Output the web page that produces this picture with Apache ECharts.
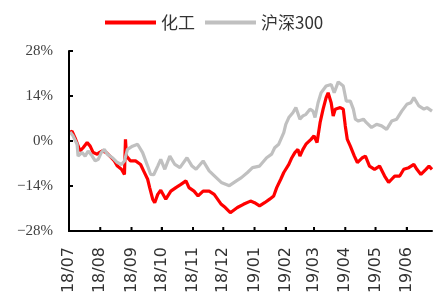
<!DOCTYPE html>
<html>
<head>
<meta charset="utf-8">
<script src="https://cdn.jsdelivr.net/npm/echarts@6/dist/echarts.min.js"></script>
<style>
  html, body { margin: 0; padding: 0; background: #fff; }
  #chart { width: 438px; height: 297px; }
</style>
</head>
<body>
<div id="chart"></div>
<script>
// 化工 指数涨跌幅（%）
var chemDates = [
  '2018-07-02', '2018-07-04', '2018-07-07', '2018-07-12', '2018-07-15', '2018-07-19', '2018-07-22', '2018-07-25',
  '2018-07-29', '2018-07-31', '2018-08-03', '2018-08-07', '2018-08-12', '2018-08-15', '2018-08-18', '2018-08-22',
  '2018-08-25', '2018-08-26', '2018-08-27', '2018-08-31', '2018-09-05', '2018-09-10', '2018-09-13', '2018-09-17',
  '2018-09-19', '2018-09-22', '2018-09-24', '2018-09-27', '2018-09-30', '2018-10-05', '2018-10-10', '2018-10-15',
  '2018-10-20', '2018-10-25', '2018-10-28', '2018-11-02', '2018-11-06', '2018-11-11', '2018-11-17', '2018-11-22',
  '2018-11-29', '2018-12-03', '2018-12-08', '2018-12-15', '2018-12-21', '2018-12-28', '2019-01-01', '2019-01-06',
  '2019-01-11', '2019-01-16', '2019-01-20', '2019-01-23', '2019-01-27', '2019-01-30', '2019-02-04', '2019-02-07',
  '2019-02-10', '2019-02-13', '2019-02-15', '2019-02-18', '2019-02-21', '2019-02-26', '2019-03-01', '2019-03-04',
  '2019-03-07', '2019-03-10', '2019-03-13', '2019-03-15', '2019-03-18', '2019-03-20', '2019-03-22', '2019-03-27',
  '2019-03-30', '2019-04-01', '2019-04-03', '2019-04-06', '2019-04-10', '2019-04-13', '2019-04-18', '2019-04-21',
  '2019-04-25', '2019-04-30', '2019-05-05', '2019-05-10', '2019-05-14', '2019-05-17', '2019-05-20', '2019-05-25',
  '2019-05-29', '2019-06-03', '2019-06-08', '2019-06-11', '2019-06-15', '2019-06-20', '2019-06-23', '2019-06-26'
];
var chemValues = [
  2.6, 3.1, 1.0, -3.1, -2.1, -0.5, -1.6, -3.6,
  -4.1, -3.6, -3.1, -3.6, -5.2, -6.2, -7.8, -8.8,
  -10.4, 0.5, -4.7, -6.2, -6.2, -7.3, -9.3, -11.9,
  -14.5, -18.1, -19.2, -16.6, -15.3, -18.1, -15.6, -14.5,
  -13.5, -12.4, -14.5, -15.6, -17.1, -15.6, -15.6, -16.6,
  -19.7, -20.7, -22.3, -20.7, -19.7, -18.7, -19.2, -20.2,
  -19.2, -18.1, -17.1, -14.5, -11.9, -9.8, -7.3, -5.2,
  -3.6, -2.6, -4.7, -2.6, -1.0, 0.5, 1.6, -0.5,
  5.7, 9.9, 13.5, 15.0, 11.9, 7.8, 9.9, 10.4,
  9.9, 4.7, 0.5, -1.6, -4.7, -6.7, -5.2, -4.7,
  -7.8, -8.8, -7.8, -10.9, -12.9, -11.9, -10.9, -10.9,
  -8.8, -8.3, -7.3, -8.8, -10.4, -8.8, -7.8, -8.8
];

// 沪深300 涨跌幅（%）
var hsDates = [
  '2018-07-02', '2018-07-05', '2018-07-09', '2018-07-10', '2018-07-14', '2018-07-17', '2018-07-20', '2018-07-24',
  '2018-07-27', '2018-07-30', '2018-08-02', '2018-08-05', '2018-08-08', '2018-08-13', '2018-08-18', '2018-08-22',
  '2018-08-25', '2018-08-28', '2018-09-02', '2018-09-07', '2018-09-12', '2018-09-17', '2018-09-20', '2018-09-23',
  '2018-09-27', '2018-09-30', '2018-10-04', '2018-10-09', '2018-10-14', '2018-10-19', '2018-10-26', '2018-10-31',
  '2018-11-04', '2018-11-11', '2018-11-17', '2018-11-24', '2018-11-29', '2018-12-07', '2018-12-14', '2018-12-19',
  '2018-12-25', '2018-12-30', '2019-01-06', '2019-01-13', '2019-01-18', '2019-01-21', '2019-01-25', '2019-01-30',
  '2019-02-01', '2019-02-04', '2019-02-08', '2019-02-11', '2019-02-15', '2019-02-18', '2019-02-21', '2019-02-25',
  '2019-02-28', '2019-03-02', '2019-03-05', '2019-03-08', '2019-03-13', '2019-03-18', '2019-03-21', '2019-03-25',
  '2019-03-30', '2019-04-02', '2019-04-06', '2019-04-09', '2019-04-11', '2019-04-14', '2019-04-19', '2019-04-22',
  '2019-04-27', '2019-05-02', '2019-05-07', '2019-05-12', '2019-05-17', '2019-05-22', '2019-05-27', '2019-06-01',
  '2019-06-05', '2019-06-08', '2019-06-13', '2019-06-18', '2019-06-21', '2019-06-26'
];
var hsValues = [
  2.8, 1.6, -1.0, -4.7, -3.6, -4.7, -3.1, -4.7,
  -6.2, -5.7, -3.6, -2.6, -4.1, -5.2, -6.7, -7.3,
  -6.2, -2.6, -1.6, -1.0, -3.6, -7.8, -10.4, -10.5,
  -7.8, -5.7, -8.8, -4.7, -7.3, -8.3, -5.2, -7.8,
  -8.8, -6.2, -9.3, -11.4, -12.9, -13.9, -12.4, -11.4,
  -9.8, -8.3, -7.8, -5.2, -4.1, -2.1, -1.0, 2.6,
  5.2, 7.3, 8.8, 10.4, 6.8, 7.8, 8.3, 9.9,
  9.3, 7.3, 11.9, 15.0, 17.1, 17.6, 15.0, 18.4,
  17.1, 12.4, 12.4, 9.9, 6.8, 6.2, 6.8, 5.7,
  4.2, 5.2, 4.7, 3.6, 6.2, 6.8, 9.3, 11.4,
  11.9, 13.5, 10.9, 9.9, 10.4, 9.3
];

// 横轴刻度：每月第一天
var monthTicks = [
  '2018-07-01', '2018-08-01', '2018-09-01', '2018-10-01', '2018-11-01', '2018-12-01',
  '2019-01-01', '2019-02-01', '2019-03-01', '2019-04-01', '2019-05-01', '2019-06-01'
];
var xStart = '2018-07-01';
var xEnd = '2019-06-26';
var yTicks = [-28, -14, 0, 14, 28];

// 'YYYY-MM-DD' 转成 UTC 毫秒
function toTime (str) {
  var p = str.split('-');
  return Date.UTC(+p[0], +p[1] - 1, +p[2]);
}

function toSeries (dates, values) {
  return dates.map(function (d, i) {
    return [toTime(d), values[i]];
  });
}

function pad (n) {
  return n < 10 ? '0' + n : '' + n;
}

var tickTimes = monthTicks.map(toTime);
var x0 = toTime(xStart);
var x1 = toTime(xEnd);
var yMin = yTicks[0];
var yMax = yTicks[yTicks.length - 1];

// 坐标轴框线和向内的短刻度（刻度长约 4px，按网格尺寸换算成数据单位）
var gridW = 438 - 69 - 6;
var gridH = 297 - 51 - 66;
var tickDx = (x1 - x0) / gridW * 4;
var tickDy = (yMax - yMin) / gridH * 4;

function buildFrame () {
  var pts = [[x0, yMax], [x0, yMin], [x1, yMin], [x1, null]];
  tickTimes.forEach(function (t) {
    pts.push([t, yMin], [t, yMin + tickDy], [t, null]);
  });
  yTicks.forEach(function (v) {
    pts.push([x0, v], [x0 + tickDx, v], [x0 + tickDx, null]);
  });
  return pts;
}

var chart = echarts.init(document.getElementById('chart'));

chart.setOption({
  animation: false,
  legend: {
    left: 100,
    top: 9,
    itemWidth: 51,
    itemHeight: 4,
    itemGap: 10,
    icon: 'rect',
    textStyle: { fontFamily: 'Noto Sans CJK SC', fontSize: 17, color: '#333' },
    data: ['化工', '沪深300']
  },
  grid: { left: 69, right: 6, top: 51, bottom: 66 },
  xAxis: {
    type: 'value',
    min: x0,
    max: x1,
    splitLine: { show: false },
    axisLine: { show: true, onZero: false, lineStyle: { color: '#000', width: 2 } },
    axisTick: { show: true, inside: true, length: 4, customValues: tickTimes },
    axisLabel: {
      rotate: 90,
      margin: 16,
      color: '#333',
      fontFamily: 'DejaVu Sans',
      fontSize: 16,
      hideOverlap: false,
      customValues: tickTimes,
      formatter: function (val) {
        var d = new Date(val);
        return pad(d.getUTCFullYear() % 100) + '/' + pad(d.getUTCMonth() + 1);
      }
    }
  },
  yAxis: {
    type: 'value',
    min: yMin,
    max: yMax,
    interval: 14,
    splitLine: { show: false },
    axisLine: { show: true, lineStyle: { color: '#000', width: 2 } },
    axisTick: { show: true, inside: true, length: 4 },
    axisLabel: {
      margin: 16,
      color: '#404040',
      fontFamily: 'Liberation Serif',
      fontSize: 15,
      formatter: function (v) {
        return (v < 0 ? '\u2212' + (-v) : v) + '%';
      }
    }
  },
  series: [
    {
      name: '化工',
      type: 'line',
      data: toSeries(chemDates, chemValues),
      symbol: 'none',
      color: '#ff0000',
      lineStyle: { width: 3.2, color: '#ff0000' }
    },
    {
      name: '沪深300',
      type: 'line',
      data: toSeries(hsDates, hsValues),
      symbol: 'none',
      color: '#c0c0c0',
      lineStyle: { width: 3.2, color: '#c0c0c0' }
    },
    {
      name: 'axisFrame',
      type: 'line',
      data: buildFrame(),
      symbol: 'none',
      silent: true,
      clip: false,
      connectNulls: false,
      z: 5,
      color: '#000',
      lineStyle: { width: 2, color: '#000' }
    }
  ]
});
</script>
</body>
</html>
